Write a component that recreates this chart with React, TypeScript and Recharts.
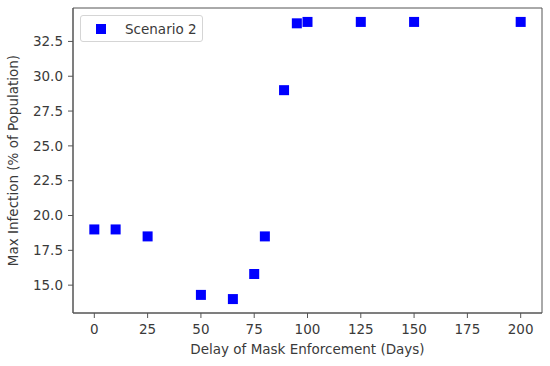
import React from 'react';
import { ScatterChart, Scatter, XAxis, YAxis, ReferenceArea, Legend } from 'recharts';

const delays = [0, 10, 25, 50, 65, 75, 80, 89, 95, 100, 125, 150, 200];
const maxInfection = [19.0, 19.0, 18.5, 14.3, 14.0, 15.8, 18.5, 29.0, 33.8, 33.9, 33.9, 33.9, 33.9];
const xTicks = [0, 25, 50, 75, 100, 125, 150, 175, 200];
const yTicks = [15, 17.5, 20, 22.5, 25, 27.5, 30, 32.5];

const data = delays.map((d, i) => ({ delay: d, infection: maxInfection[i] }));

const FONT = '"DejaVu Sans", sans-serif';
const FS = 13.5;
const TEXT = '#3a3a3a';
const AXIS = '#555';
const BLUE = '#0000ff';

const SquareDot = ({ cx, cy }: any) => (
    <rect x={cx - 5} y={cy - 5} width={10} height={10} fill={BLUE} />
);

const LegendBox = () => (
    <div
        style={{
            border: '1px solid #d5d5d5',
            borderRadius: 3,
            background: '#fff',
            width: 121,
            height: 25,
            display: 'flex',
            alignItems: 'center',
            fontFamily: FONT,
            fontSize: FS,
            color: TEXT,
            whiteSpace: 'nowrap',
        }}
    >
        <div style={{ width: 10, height: 10, background: BLUE, marginLeft: 15, marginRight: 19 }} />
        <span>Scenario 2</span>
    </div>
);

export default function App() {
    return (
        <div style={{ position: 'absolute', left: 0, top: 0, background: '#fff' }}>
            <ScatterChart width={550} height={366} margin={{ top: 8, right: 8, bottom: 0, left: 0 }}>
                <XAxis
                    type="number"
                    dataKey="delay"
                    domain={[-10, 210]}
                    ticks={xTicks}
                    height={53}
                    stroke={AXIS}
                    tickSize={5}
                    tickMargin={6}
                    tick={{ fill: TEXT, fontSize: FS, fontFamily: FONT }}
                    label={{
                        value: 'Delay of Mask Enforcement (Days)',
                        position: 'insideBottom',
                        offset: 12,
                        style: { fill: TEXT, fontSize: FS, fontFamily: FONT },
                    }}
                />
                <YAxis
                    type="number"
                    dataKey="infection"
                    domain={[13, 34.9]}
                    ticks={yTicks}
                    width={73}
                    stroke={AXIS}
                    tickSize={5}
                    tickMargin={5}
                    tickFormatter={(v: number) => v.toFixed(1)}
                    tick={{ fill: TEXT, fontSize: FS, fontFamily: FONT }}
                    label={{
                        value: 'Max Infection (% of Population)',
                        angle: -90,
                        position: 'insideLeft',
                        offset: 13,
                        style: { fill: TEXT, fontSize: FS, fontFamily: FONT, textAnchor: 'middle' },
                    }}
                />
                <ReferenceArea x1={-10} x2={210} y1={13} y2={34.9} fill="none" stroke={AXIS} strokeWidth={1} />
                <Legend
                    layout="vertical"
                    verticalAlign="middle"
                    align="center"
                    content={<LegendBox />}
                    wrapperStyle={{ left: 80, top: 15, width: 'auto', height: 'auto' }}
                />
                <Scatter name="Scenario 2" data={data} shape={<SquareDot />} isAnimationActive={false} />
            </ScatterChart>
        </div>
    );
}
